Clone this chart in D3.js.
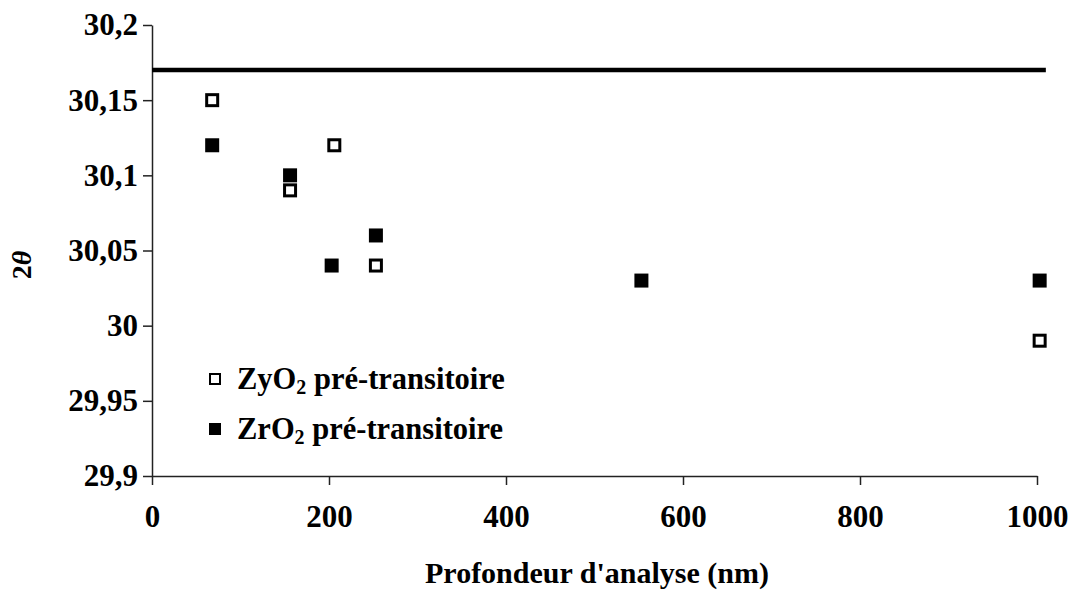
<!DOCTYPE html>
<html>
<head>
<meta charset="utf-8">
<script src="https://cdn.jsdelivr.net/npm/d3@7"></script>
<style>
  html, body { margin: 0; padding: 0; background: #fff; }
  svg { display: block; }
  text { font-family: "Liberation Serif", "Times New Roman", serif; font-weight: bold; fill: #000; }
</style>
</head>
<body>
<svg id="chart" width="1071" height="599"></svg>
<script>
// Depth of analysis (nm) and measured 2θ positions
const zyDepth = [68, 156, 206, 253, 1003];
const zyTheta = [30.15, 30.09, 30.12, 30.04, 29.99];
const zrDepth = [68, 156, 203, 253, 553, 1003];
const zrTheta = [30.12, 30.10, 30.04, 30.06, 30.03, 30.03];

// Reference 2θ value drawn as a horizontal line
const refDepth = [0, 1010];
const refTheta = [30.17, 30.17];

const xTicks = [0, 200, 400, 600, 800, 1000];
const yTicks = [29.9, 29.95, 30, 30.05, 30.1, 30.15, 30.2];

const seriesNames = ["ZyO", "ZrO"];

const svg = d3.select("#chart");
const plotLeft = 152, plotRight = 1037, plotTop = 25, plotBottom = 476;

const x = d3.scaleLinear().domain([0, 1000]).range([plotLeft, plotRight]);
const y = d3.scaleLinear().domain([29.9, 30.2]).range([plotBottom, plotTop]);

const fmt = v => String(+v.toFixed(2)).replace(".", ",");

// Y axis
const yAxis = svg.append("g")
  .attr("transform", `translate(${plotLeft},0)`)
  .call(d3.axisLeft(y).tickValues(yTicks).tickFormat(fmt).tickSize(9).tickSizeOuter(0).tickPadding(5));
yAxis.select(".domain").attr("stroke", "#222").attr("stroke-width", 1.5);
yAxis.selectAll(".tick line").attr("stroke", "#222").attr("stroke-width", 1.5);
yAxis.selectAll(".tick text").attr("font-size", 31).attr("fill", "#000");

// X axis
const xAxis = svg.append("g")
  .attr("transform", `translate(0,${plotBottom})`)
  .call(d3.axisBottom(x).tickValues(xTicks).tickFormat(d3.format("d")).tickSize(9).tickSizeOuter(0).tickPadding(20));
xAxis.select(".domain").attr("stroke", "#222").attr("stroke-width", 1.5);
xAxis.selectAll(".tick line").attr("stroke", "#222").attr("stroke-width", 1.5);
xAxis.selectAll(".tick text").attr("font-size", 31).attr("fill", "#000");

// Axis titles
svg.append("text")
  .attr("x", 597)
  .attr("y", 583)
  .attr("text-anchor", "middle")
  .attr("font-size", 30)
  .text("Profondeur d'analyse (nm)");

const yTitle = svg.append("text")
  .attr("transform", "translate(31,265) rotate(-90)")
  .attr("text-anchor", "middle")
  .attr("font-size", 28);
yTitle.append("tspan").text("2");
yTitle.append("tspan").attr("font-style", "italic").text("θ");

// Reference line
const line = d3.line().x(d => x(d[0])).y(d => y(d[1]));
svg.append("path")
  .datum(d3.zip(refDepth, refTheta))
  .attr("d", line)
  .attr("fill", "none")
  .attr("stroke", "#000")
  .attr("stroke-width", 4.5);

const size = 14;

// ZyO2 : open squares
svg.append("g").selectAll("rect")
  .data(d3.zip(zyDepth, zyTheta))
  .join("rect")
  .attr("x", d => x(d[0]) - size / 2 + 1.5)
  .attr("y", d => y(d[1]) - size / 2 + 1.5)
  .attr("width", size - 3)
  .attr("height", size - 3)
  .attr("fill", "#fff")
  .attr("stroke", "#000")
  .attr("stroke-width", 3);

// ZrO2 : filled squares
svg.append("g").selectAll("rect")
  .data(d3.zip(zrDepth, zrTheta))
  .join("rect")
  .attr("x", d => x(d[0]) - size / 2)
  .attr("y", d => y(d[1]) - size / 2)
  .attr("width", size)
  .attr("height", size)
  .attr("fill", "#000");

// Legend
const legend = svg.append("g");
const legendRows = [
  { name: seriesNames[0], filled: false, cy: 379 },
  { name: seriesNames[1], filled: true, cy: 429 }
];
legendRows.forEach(r => {
  if (r.filled) {
    legend.append("rect").attr("x", 209).attr("y", r.cy - 6).attr("width", 12).attr("height", 12).attr("fill", "#000");
  } else {
    legend.append("rect").attr("x", 210).attr("y", r.cy - 5).attr("width", 10).attr("height", 10)
      .attr("fill", "#fff").attr("stroke", "#000").attr("stroke-width", 2);
  }
  const t = legend.append("text").attr("x", 237).attr("y", r.cy + 10).attr("font-size", 30.5);
  t.append("tspan").text(r.name);
  t.append("tspan").attr("font-size", 20).attr("dy", 5).text("2");
  t.append("tspan").attr("dy", -5).text(" pré-transitoire");
});
</script>
</body>
</html>
